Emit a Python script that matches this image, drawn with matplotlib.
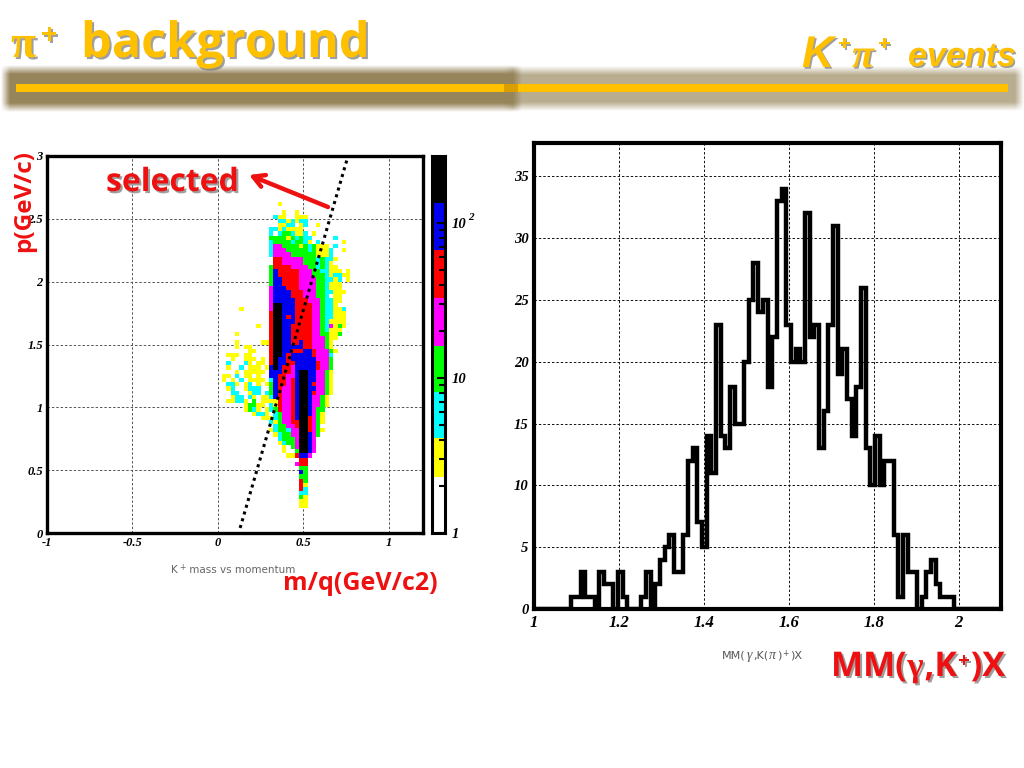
#!/usr/bin/env python
"""
pi+ background slide: K+ mass vs momentum and missing mass histogram
"""

import numpy as np
import matplotlib
matplotlib.use('Agg')
from matplotlib import pyplot as plt
from matplotlib import patheffects
from matplotlib.colors import ListedColormap, BoundaryNorm, to_rgb
from matplotlib.patches import Rectangle

W, H = 1024, 768

# missing mass histogram, 100 bins between 1 and 2.1
MM_EDGES = np.linspace(1.0, 2.1, 101)
MM_COUNTS = [0, 0, 0, 0, 0, 0, 0, 0, 1, 1, 3, 1, 1, 0, 3, 2, 2, 0, 3, 1,
             0, 0, 0, 1, 3, 0, 2, 4, 5, 6, 3, 3, 6, 12, 13, 7, 5, 14, 11, 23,
             14, 13, 18, 15, 15, 20, 25, 28, 24, 25, 18, 22, 33, 34, 23, 20, 21, 20, 32, 22,
             23, 13, 16, 23, 31, 19, 21, 17, 14, 18, 26, 13, 10, 14, 10, 12, 12, 6, 1, 6,
             3, 3, 0, 1, 3, 4, 2, 1, 1, 1, 0, 0, 0, 0, 0, 0, 0, 0, 0, 0]
MM_XTICKS = [1, 1.2, 1.4, 1.6, 1.8, 2]
MM_XLABELS = ['1', '1.2', '1.4', '1.6', '1.8', '2']
MM_YTICKS = [0, 5, 10, 15, 20, 25, 30, 35]

# mass vs momentum, colour level of each cell, top row first
# . empty, y yellow, c cyan, g green, m magenta, r red, b blue, k black
HEAT_ROWS = [
    "..............y",
    "",
    "...............y..y",
    ".............cyy..yyy",
    "..............ccycycc",
    "..............yycc.yc..y",
    "............ccycyyyy",
    "............c.cggcyyc.y",
    "............ggggygcgcc.....c",
    "............cggggcggcy.c.....y",
    "............cmmggggygcgyyy.c",
    "............cmmmgggggcgyyyc..y",
    "............cmmmmggggggyyyc",
    ".............rrmmmmmgggcgccy",
    ".............rrmmmmmgggcgcy",
    "............grrrrmmmmggcgcyy",
    "............gbrrrrrmmmggccyyy.y",
    "............gbrrrrrmmmgggcyccyy",
    "............gbbrrrrmmmmggccyc.y",
    "............gbbrrrrmmmmggcyyy",
    "............mbbbrrrmmmmggcyyy",
    "............mbbbbrrrmmmggccyyy",
    "............mbbbbrrrmmmggc.yy",
    "............mbbbbbrrrmmmgccyy",
    "............mkkbbbrrrrmmgccy",
    ".....y......mkkbbbrrrrmmgccyyc",
    "............rkkbbbrrrrmmgccyyy",
    "............rkkbrbrrrrmmgccyyy",
    "............rkkbbbrrrrmmgcyyyy",
    ".........y..rkkbbrrrrrmmgcmygy",
    "............rkkbbrrrrrmmgcyyy",
    "....y.......rkkbbrrrrrmmggyyg",
    "............rkkbbrrrrrmmmgyy",
    "....y.....yyrkkbbrrbrrmmmgy",
    "....y.yy....rkkbbbbbrrmmmgy",
    ".......yy...rkkbbrrrbbrmmmgy",
    "..yyy.yy....rkkbrbbbbbrmmmc",
    "...y..yyy.y.rkbbrbbbbbbmmmg",
    "..c...cy.yy.rkbbrrbbbbbrmmg",
    "..y..c.yyy.ybkbrrmbbbbbrmmg",
    "....y.yyyyy.bbbrrmbkkbbmmgy",
    ".yy.c.yy.y..bbrrmmbkkbbmmgy",
    ".y.y.c.yyyy.cbrrmrbkkbbmmgy",
    "..ccy.yc.y.ygbrrmrbkkbrmmgy",
    "..yc..yccc..gbrmmrbkkbbmmgy",
    "...cc..ycc.cgbrmmrbkkbrmmgy",
    "...ycc.cy.yycbrmmrbkkbmmgy",
    "..yyccy.g.yyyyrmmrbkkbmmgy",
    "......yggyy.cyrmmrbkkbmmgy",
    "......ygcy.ycgrmmrbkkbmgg",
    "........yccy.cgmmrbkkbmgy",
    "..........yyycgmmrbkkrmgy",
    "............cygmmrrkkrmgy",
    ".............cggmmrkkrmg",
    "............ycggcmmkkrmgy",
    ".............ycggmmkkbmg",
    "..............cgggmkkbm",
    "..............ycggmkkbm",
    "...............y.gmkkbm",
    "...............y..gkkbm",
    "................yyrbbm",
    "...................rr",
    "..................mrr",
    "...................gg",
    "...................bg",
    "...................gg",
    "...................rg",
    "...................ry",
    "...................rc",
    "...................cc",
    "...................gy",
    "...................yy",
    "...................yy",
]
HEAT_LEVELS = '.ycgmrbk'
HEAT_COLORS = ['#ffffff', '#ffff00', '#00ffff', '#00ff00', '#ff00ff', '#ff0000', '#0000f0', '#000000']
HEAT_X0 = 0.0
HEAT_DX = 0.025
HEAT_YTOP = 79 / 30.0
HEAT_DY = 1 / 30.0

# colour scale limits
CBAR_BOUNDS = [1, 2.3, 4.1, 8.1, 16, 33, 67, 135, 270]
CBAR_MINOR = [2, 3, 4, 5, 6, 7, 8, 9, 20, 30, 40, 50, 60, 70, 80, 90, 200]

# selection line
CUT_X = [0.13, 0.755]
CUT_Y = [0.04, 2.97]

HM_XTICKS = [-1, -0.5, 0, 0.5, 1]
HM_XLABELS = ['-1', '-0.5', '0', '0.5', '1']
HM_YTICKS = [0, 0.5, 1, 1.5, 2, 2.5, 3]
HM_YLABELS = ['0', '0.5', '1', '1.5', '2', '2.5', '3']

GOLD = '#ffc000'
RED = '#ee1111'
SERIF = 'Liberation Serif'
HEAVY = 'Open Sans'


def px_axes(fig, left, top, right, bottom):
    return fig.add_axes([left / W, 1 - bottom / H, (right - left) / W, (bottom - top) / H])


def style_plot(ax, lw, size, grid_color, pad):
    for s in ax.spines.values():
        s.set_linewidth(lw)
        s.set_zorder(6)
    ax.grid(True, color=grid_color, lw=0.7, ls=(0, (2.5, 2)))
    ax.set_axisbelow(True)
    ax.tick_params(length=0, pad=pad)
    for t in ax.get_xticklabels() + ax.get_yticklabels():
        t.set_family(SERIF)
        t.set_style('italic')
        t.set_weight('bold')
        t.set_size(size)


def glow(ax, x0, x1, y0, y1, color, blur):
    # soft edged band
    xs = np.arange(0, W) + 0.5
    ys = np.arange(0, 130) + 0.5
    ax_ramp = np.clip((xs - x0) / blur, 0, 1) * np.clip((x1 - xs) / blur, 0, 1)
    ay_ramp = np.clip((ys - y0) / blur, 0, 1) * np.clip((y1 - ys) / blur, 0, 1)
    alpha = np.outer(ay_ramp, ax_ramp)
    img = np.zeros((len(ys), len(xs), 4))
    img[..., :3] = to_rgb(color)
    img[..., 3] = alpha
    ax.imshow(img, extent=(0, W, 130, 0), aspect='auto', interpolation='bilinear', zorder=1)


def put_runs(ax, x, y, runs, color, shadow=None):
    # runs of (text, family, size, weight, style, raise)
    renderer = ax.figure.canvas.get_renderer()
    for txt, fam, size, weight, style, dy in runs:
        t = ax.text(x, y - dy, txt, family=fam, size=size, weight=weight, style=style,
                    color=color, va='baseline', ha='left', zorder=5)
        if shadow:
            t.set_path_effects([patheffects.withSimplePatchShadow(offset=(shadow, -shadow),
                                                                  shadow_rgbFace='#777777', alpha=0.7)])
        x += t.get_window_extent(renderer).width + 1


if __name__ == '__main__':
    fig = plt.figure(figsize=(W / 100.0, H / 100.0), dpi=100, facecolor='white')

    # left panel
    ax = px_axes(fig, 47, 156, 423, 533)
    ncol = max(len(r) for r in HEAT_ROWS)
    grid = np.array([[HEAT_LEVELS.index(c) for c in r.ljust(ncol, '.')] for r in HEAT_ROWS])
    xe = HEAT_X0 + HEAT_DX * np.arange(ncol + 1)
    ye = HEAT_YTOP - HEAT_DY * np.arange(len(HEAT_ROWS) + 1)
    masked = np.ma.masked_equal(grid, 0)
    cmap = ListedColormap(HEAT_COLORS)
    norm = BoundaryNorm(np.arange(-0.5, 8.5), cmap.N)
    ax.pcolormesh(xe, ye, masked, cmap=cmap, norm=norm, zorder=2)
    ax.plot(CUT_X, CUT_Y, color='k', lw=2.2, ls=(0, (1, 1.3)), zorder=3)
    ax.set_xlim(-1, 1.2)
    ax.set_ylim(0, 3)
    ax.set_xticks(HM_XTICKS)
    ax.set_xticklabels(HM_XLABELS)
    ax.set_yticks(HM_YTICKS)
    ax.set_yticklabels(HM_YLABELS)
    style_plot(ax, 2.4, 9, '#555555', 3)

    # colour scale
    cax = px_axes(fig, 432, 156, 445, 533)
    cax.set_yscale('log')
    cax.pcolormesh([0, 1], CBAR_BOUNDS, np.arange(8).reshape(-1, 1),
                   cmap=cmap, norm=norm, zorder=1)
    cax.set_ylim(CBAR_BOUNDS[0], CBAR_BOUNDS[-1])
    cax.set_xticks([])
    cax.yaxis.tick_right()
    cax.set_yticks([1, 10, 100])
    cax.set_yticklabels(['1', '10', '10'], family=SERIF, style='italic', weight='bold', size=10.5)
    cax.set_yticks(CBAR_MINOR, minor=True)
    cax.set_yticklabels([], minor=True)
    cax.tick_params(axis='y', which='major', direction='in', length=6, width=1.5, pad=5)
    cax.tick_params(axis='y', which='minor', direction='in', length=4, width=1.5)
    for s in cax.spines.values():
        s.set_linewidth(2.2)
    cax.set_xlim(0, 1)

    # missing mass histogram
    hx = px_axes(fig, 534, 143, 1001, 609)
    hx.stairs(MM_COUNTS, MM_EDGES, color='k', lw=3.2, zorder=3, joinstyle='miter')
    hx.set_xlim(1, 2.1)
    hx.set_ylim(0, 37.7)
    hx.set_xticks(MM_XTICKS)
    hx.set_xticklabels(MM_XLABELS)
    hx.set_yticks(MM_YTICKS)
    style_plot(hx, 3.0, 12, '#111111', 4)
    for lab in hx.get_yticklabels():
        lab.set_size(10.5)

    # everything placed in slide pixels goes on top
    top = fig.add_axes([0, 0, 1, 1], facecolor='none')
    top.set_xlim(0, W)
    top.set_ylim(H, 0)
    top.set_autoscale_on(False)
    top.axis('off')

    glow(top, 504, 1024, 66, 111, '#b9ad90', 9)
    glow(top, 1, 522, 65, 112, '#96845a', 9)
    top.set_xlim(0, W)
    top.set_ylim(H, 0)
    top.add_patch(Rectangle((504, 84), 504, 8, color=GOLD, lw=0, zorder=3))
    top.add_patch(Rectangle((504, 84), 14, 8, color='#d99f00', lw=0, zorder=3))
    top.add_patch(Rectangle((16, 84), 488, 8, color=GOLD, lw=0, zorder=3))

    put_runs(top, 11, 57, [('\u03c0', SERIF, 33, 'bold', 'normal', 0)], GOLD, 1.5)
    put_runs(top, 41, 44, [('+', HEAVY, 21, 'bold', 'normal', 0)], GOLD, 1.5)
    put_runs(top, 81, 57, [('background', HEAVY, 35, 'bold', 'normal', 0)], GOLD, 1.5)

    put_runs(top, 802, 67, [('K', 'Liberation Sans', 32, 'bold', 'italic', 0)], GOLD, 1.2)
    put_runs(top, 838, 50, [('+', 'Liberation Sans', 15, 'bold', 'italic', 0)], GOLD, 1.2)
    put_runs(top, 852, 67, [('\u03c0', SERIF, 29, 'bold', 'italic', 0)], GOLD, 1.2)
    put_runs(top, 878, 50, [('+', 'Liberation Sans', 15, 'bold', 'italic', 0)], GOLD, 1.2)
    put_runs(top, 908, 66, [('events', 'Liberation Sans', 24.5, 'bold', 'italic', 0)], GOLD, 1.2)

    put_runs(top, 106, 191, [('selected', HEAVY, 23, 'bold', 'normal', 0)], RED, 1.5)
    top.annotate('', xy=(249, 175), xytext=(328, 207),
                 arrowprops=dict(arrowstyle='->,head_length=0.8,head_width=0.45', color=RED, lw=3.2,
                                 shrinkA=0, shrinkB=0), zorder=5)
    top.text(24, 201, 'p(GeV/c)', family=HEAVY, size=17.5, weight='bold', color=RED,
             rotation=90, ha='center', va='center', zorder=5)
    top.text(283, 590, 'm/q(GeV/c2)', family=HEAVY, size=18, weight='bold', color=RED,
             ha='left', va='baseline', zorder=5)

    # sub titles in thin grey
    put_runs(top, 171, 573, [('K', 'DejaVu Sans', 7.5, 'normal', 'normal', 0),
                             ('+', 'DejaVu Sans', 5.5, 'normal', 'normal', 3),
                             (' mass vs momentum', 'DejaVu Sans', 7.5, 'normal', 'normal', 0)], '#666666')
    put_runs(top, 722, 659, [('MM(', 'DejaVu Sans', 8, 'normal', 'normal', 0),
                             ('\u03b3', SERIF, 10, 'normal', 'italic', 0),
                             (',K(', 'DejaVu Sans', 8, 'normal', 'normal', 0),
                             ('\u03c0', SERIF, 10, 'normal', 'italic', 0),
                             (')', 'DejaVu Sans', 8, 'normal', 'normal', 0),
                             ('+', 'DejaVu Sans', 5.5, 'normal', 'normal', 3),
                             (')X', 'DejaVu Sans', 8, 'normal', 'normal', 0)], '#555555')

    put_runs(top, 831, 676, [('MM(', HEAVY, 24.5, 'bold', 'normal', 0),
                             ('\u03b3', SERIF, 25, 'bold', 'normal', 0),
                             (',K', HEAVY, 24.5, 'bold', 'normal', 0),
                             ('+', HEAVY, 15, 'bold', 'normal', 9),
                             (')X', HEAVY, 24.5, 'bold', 'normal', 0)], RED, 1.5)

    # exponent of the colour scale label
    top.text(468, 220, '2', family=SERIF, style='italic', weight='bold', size=8, zorder=5)

    plt.savefig('out.png', dpi=100)
